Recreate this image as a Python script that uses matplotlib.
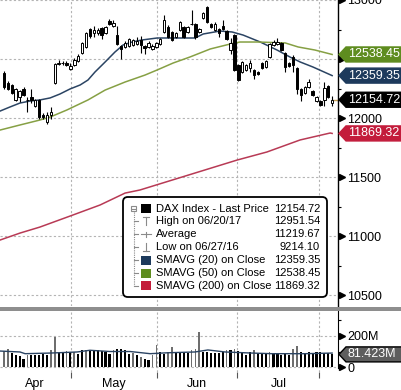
import numpy as np
import matplotlib.pyplot as plt
import matplotlib.transforms as mtransforms
from matplotlib.patches import FancyBboxPatch, Polygon, Rectangle
from matplotlib.lines import Line2D

plt.rcParams['font.family'] = ['Liberation Sans', 'DejaVu Sans']

# ---------------------------------------------------------------
# Data (DAX daily candles, Apr - early Aug 2017)
# ---------------------------------------------------------------
opens = [12381, 12297, 12280, 12153, 12178, 12246, 12150, 12178, 12102, 12153,
         12025, 11966, 12025, 12297, 12460, 12468, 12465, 12415, 12449, 12483,
         12551, 12602, 12754, 12720, 12722, 12763, 12720, 12822, 12780, 12703,
         12610, 12602, 12610, 12619, 12627, 12661, 12610, 12602, 12585, 12602,
         12627, 12729, 12771, 12729, 12686, 12746, 12771, 12729, 12795, 12797,
         12729, 12847, 12941, 12797, 12746, 12754, 12780, 12737, 12576, 12703,
         12449, 12390, 12407, 12424, 12407, 12390, 12466, 12432, 12517, 12619,
         12627, 12636, 12551, 12466, 12517, 12424, 12246, 12212, 12263, 12229,
         12144, 12144, 12153, 12271, 12125]
highs = [12400, 12310, 12290, 12255, 12240, 12260, 12178, 12246, 12165, 12165,
         12040, 12051, 12093, 12466, 12490, 12485, 12480, 12466, 12505, 12540,
         12645, 12730, 12765, 12780, 12760, 12775, 12780, 12839, 12830, 12780,
         12619, 12650, 12680, 12670, 12690, 12695, 12620, 12650, 12625, 12645,
         12680, 12873, 12790, 12740, 12730, 12822, 12780, 12780, 12915, 12805,
         12765, 12900, 12951.54, 12805, 12810, 12765, 12831, 12745, 12678, 12712,
         12460, 12485, 12460, 12492, 12415, 12400, 12475, 12492, 12636, 12660,
         12678, 12645, 12559, 12475, 12530, 12435, 12255, 12275, 12331, 12240,
         12190, 12155, 12305, 12280, 12185]
lows = [12250, 12235, 12200, 12140, 12135, 12185, 12051, 12127, 12090, 11995,
        11990, 11949, 11992, 12290, 12449, 12450, 12440, 12407, 12440, 12475,
        12545, 12595, 12680, 12686, 12700, 12670, 12712, 12788, 12770, 12619,
        12500, 12590, 12600, 12610, 12615, 12551, 12542, 12590, 12575, 12590,
        12620, 12720, 12678, 12650, 12678, 12737, 12678, 12720, 12788, 12670,
        12720, 12840, 12805, 12760, 12737, 12686, 12745, 12660, 12542, 12400,
        12310, 12380, 12395, 12390, 12331, 12365, 12415, 12424, 12508, 12610,
        12620, 12568, 12390, 12432, 12390, 12203, 12144, 12200, 12255, 12185,
        12135, 12100, 12102, 12170, 12100]
closes = [12263, 12246, 12212, 12246, 12229, 12195, 12155, 12153, 12153, 12008,
          12010, 12025, 12051, 12458, 12466, 12464, 12450, 12441, 12492, 12525,
          12636, 12720, 12695, 12746, 12744, 12703, 12771, 12797, 12805, 12627,
          12585, 12636, 12670, 12661, 12653, 12619, 12593, 12636, 12610, 12636,
          12670, 12831, 12686, 12661, 12720, 12814, 12686, 12771, 12800, 12686,
          12754, 12890, 12814.79, 12771, 12797, 12720, 12754, 12670, 12636, 12407,
          12322, 12475, 12449, 12466, 12364, 12373, 12424, 12483, 12627, 12644,
          12644, 12576, 12432, 12441, 12449, 12246, 12195, 12263, 12305, 12195,
          12178, 12110, 12254, 12178, 12154.72]

# volume in millions, and which bars are drawn grey
volume = [103, 119, 90, 80, 69, 54, 75, 80, 80, 80,
          86, 80, 108, 194, 90, 90, 101, 97, 95, 86,
          108, 108, 108, 108, 108, 103, 97, 86, 108, 119,
          119, 108, 86, 90, 75, 65, 54, 43, 75, 140,
          97, 86, 97, 129, 100, 97, 95, 90, 110, 115,
          226, 100, 95, 92, 92, 92, 97, 110, 108, 115,
          105, 90, 80, 95, 110, 90, 85, 92, 100, 85,
          92, 80, 85, 75, 118, 136, 95, 90, 95, 92,
          97, 95, 92, 92, 81.423]
vol_grey = [1, 1, 0, 0, 0, 0, 1, 0, 0, 0, 0, 0, 1, 1, 0, 0, 1, 0, 1, 0,
            0, 1, 0, 0, 0, 0, 0, 0, 1, 0, 0, 0, 0, 1, 0, 1, 0, 0, 1, 1,
            0, 0, 1, 1, 0, 0, 0, 0, 1, 1, 1, 0, 0, 0, 0, 0, 0, 1, 0, 1,
            0, 0, 0, 0, 1, 0, 0, 0, 1, 0, 0, 0, 0, 0, 1, 1, 0, 0, 0, 0,
            0, 0, 0, 0, 0]

# moving averages, read at a few points along each line (x = bar number)
sma20_x = [-1, 1.5, 4.1, 6.7, 9.2, 11.8, 14.3, 16.9, 19.5, 21.5, 23.3, 25.9, 28.4,
           30.5, 32.8, 35.3, 39.2, 43, 48.9, 51, 55.3, 58.4, 61.2, 65.6, 69.9,
           73.2, 75.8, 79.1, 84]
sma20 = [12059, 12093, 12127, 12144, 12153, 12170, 12203, 12246, 12280, 12322,
         12390, 12475, 12559, 12619, 12644, 12661, 12678, 12678, 12678, 12712,
         12737, 12729, 12703, 12644, 12576, 12517, 12475, 12432, 12359.35]
sma50_x = [-1, 4.1, 9.2, 11.8, 16.1, 21.5, 25.9, 31, 36.1, 39.2, 43.3, 47.6,
           52.8, 57.9, 60.4, 65, 72, 75.3, 79.6, 84]
sma50 = [11898, 11941, 11983, 12008, 12068, 12153, 12237, 12305, 12364, 12407,
         12466, 12517, 12585, 12627, 12644, 12644, 12636, 12602, 12576, 12538.45]
sma200_x = [-1, 4.1, 9.2, 16.9, 24.6, 31, 34.8, 59.7, 67.3, 75.8, 83.5, 84]
sma200 = [10966, 11025, 11076, 11169, 11263, 11364, 11390, 11644, 11712, 11814,
          11873, 11869.32]
volma_x = [-1, 4.1, 5.4, 11.8, 18.7, 22, 27.1, 32.3, 37.4, 42, 48.9, 52.2, 56.6,
           63.5, 68.6, 77.1, 84]
volma = [103, 97, 86, 90, 97, 108, 100, 100, 86, 92, 97, 110, 97, 90, 86, 86, 90]

month_names = ['Apr', 'May', 'Jun', 'Jul']
month_label_x = [7.8, 28, 49.5, 70.3]
month_start_x = [17.2, 39.2, 59.7, 80.7]

legend_rows = ['DAX Index - Last Price', 'High on 06/20/17', 'Average',
               'Low on 06/27/16', 'SMAVG (20) on Close', 'SMAVG (50) on Close',
               'SMAVG (200) on Close']
legend_vals = [closes[-1], max(highs), 11219.67, 9214.10, sma20[-1], sma50[-1], sma200[-1]]

C_NAVY = '#1d3a5c'
C_GREEN = '#5e8c1f'
C_RED = '#c31c3b'
GRID = dict(color='#b4b4b4', linestyle=(0, (2, 2)), linewidth=0.8)

# ---------------------------------------------------------------
W, H = 402, 390
fig = plt.figure(figsize=(W / 100, H / 100), dpi=100)


def fx(x):
    return x / W


def fy(y):
    return 1 - y / H


ax = fig.add_axes([0, fy(306), fx(338), 306 / H])
axv = fig.add_axes([0, fy(372), fx(338), (372 - 311) / H])
XLIM = (-1.02, 85.5)

# ---- price panel ----
bars = np.arange(len(closes))
o = np.array(opens)
c = np.array(closes)
up = c >= o
ax.vlines(bars, lows, highs, color='black', lw=0.8, zorder=3)
ax.bar(bars, np.maximum(np.abs(c - o), 3), bottom=np.minimum(o, c), width=0.62,
       color=np.where(up, 'white', 'black'), edgecolor='black', lw=0.7, zorder=4)

ax.plot(sma20_x, sma20, color='#2b4463', lw=1.1, zorder=2)
ax.plot(sma50_x, sma50, color='#86a044', lw=1.1, zorder=2)
ax.plot(sma200_x, sma200, color='#b83a55', lw=1.1, zorder=2)
ax.plot([bars[-1], XLIM[1]], [closes[-1], closes[-1]], color='#c9a45c', lw=1, zorder=2,
        clip_on=False)

ax.set_xlim(*XLIM)
ax.set_ylim(10407, 13000)
yticks = np.arange(10500, 13001, 500)
ax.set_yticks(yticks)
# 12500 sits under the SMAVG(50) tag, so its label is left blank
ax.set_yticklabels(['' if t == 12500 else str(t) for t in yticks])
ax.set_yticks(np.arange(10750, 13000, 500), minor=True)
ax.set_xticks(month_start_x)
ax.grid(True, **GRID)
ax.yaxis.tick_right()
ax.tick_params(axis='y', which='major', length=0, pad=6.8, labelsize=9)
ax.tick_params(axis='y', which='minor', length=2.5, width=0.8)
ax.tick_params(axis='x', length=0, labelbottom=False)
for s in ['left', 'top', 'bottom']:
    ax.spines[s].set_visible(False)
ax.spines['right'].set_linewidth(1)

trans = mtransforms.blended_transform_factory(ax.transAxes, ax.transData)
ax.plot([1.012] * len(yticks), yticks, ls='none', marker='>', ms=4.5, color='black',
        transform=trans, clip_on=False)

# ---- volume panel ----
vg = np.array(vol_grey) == 1
vol = np.array(volume)
axv.bar(bars[~vg], vol[~vg], width=0.55, color='black', zorder=3)
axv.bar(bars[vg], vol[vg], width=0.42, color='#6e6e6e', zorder=3)
axv.plot(volma_x, volma, color='#2b4463', lw=1, zorder=4)
axv.set_xlim(*XLIM)
axv.set_ylim(-32, 361)
axv.set_yticks([0, 200])
axv.set_yticklabels(['0', '200M'])
axv.set_yticks([100, 300], minor=True)
axv.yaxis.tick_right()
axv.tick_params(axis='y', which='major', length=0, pad=6.8, labelsize=9)
axv.tick_params(axis='y', which='minor', length=2.5, width=0.8)
axv.set_xticks(month_start_x)
axv.set_xticklabels([])
axv.set_xticks(month_label_x, minor=True)
axv.set_xticklabels(month_names, minor=True)
axv.tick_params(axis='x', which='major', length=4, width=0.8, color='#555555')
axv.tick_params(axis='x', which='minor', length=0, pad=4.5, labelsize=9)
axv.grid(True, which='major', **GRID)
for s in ['left', 'top', 'bottom']:
    axv.spines[s].set_visible(False)
axv.spines['right'].set_bounds(-6.5, 361)
transv = mtransforms.blended_transform_factory(axv.transAxes, axv.transData)
axv.plot([1.012] * 2, [0, 200], ls='none', marker='>', ms=4.5, color='black',
         transform=transv, clip_on=False)

# grey divider between the panels
fig.add_artist(Rectangle((0, fy(310.7)), 1, 3.4 / H, transform=fig.transFigure,
                         fc='#8e8e8e', ec='none'))


# ---- value tags on the right axis ----
def tag(axis, value, text, fc, ec=None):
    yc = H - axis.transData.transform((0, value))[1]
    pts = [(339, yc), (346, yc - 7.5), (W + 2, yc - 7.5), (W + 2, yc + 7.5), (346, yc + 7.5)]
    fig.add_artist(Polygon([(fx(a), fy(b)) for a, b in pts], closed=True,
                           transform=fig.transFigure, fc=fc, ec=ec or fc, lw=1, zorder=5))
    fig.text(fx(348), fy(yc), text, color='white', fontsize=9, ha='left', va='center',
             zorder=6)


tag(ax, sma50[-1], f'{sma50[-1]:.2f}', C_GREEN)
tag(ax, sma20[-1], f'{sma20[-1]:.2f}', C_NAVY)
tag(ax, closes[-1], f'{closes[-1]:.2f}', 'black')
tag(ax, sma200[-1], f'{sma200[-1]:.2f}', C_RED)
tag(axv, volume[-1], f'{volume[-1]:.3f}M', '#5e5e5e', 'black')

# ---- legend box ----
fig.add_artist(FancyBboxPatch((fx(123), fy(297)), fx(327) - fx(123), 100 / H,
                              boxstyle='round,pad=0,rounding_size=0.012',
                              mutation_aspect=W / H, transform=fig.transFigure,
                              fc='white', ec='black', lw=1.3, zorder=7))
row_y = [208.5 + 12.9 * i for i in range(len(legend_rows))]
icon_colors = ['black', None, None, None, C_NAVY, C_GREEN, C_RED]
tree = dict(color='#8a8a8a', lw=0.8, transform=fig.transFigure, zorder=8)
fig.add_artist(Line2D([fx(133.5)] * 2, [fy(212), fy(row_y[-1])], ls=(0, (1, 1)), **tree))
fig.add_artist(Rectangle((fx(131), fy(211)), 5 / W, 5 / H, fc='white', ec='#8a8a8a',
                         lw=0.8, transform=fig.transFigure, zorder=8))
fig.add_artist(Line2D([fx(132), fx(135)], [fy(208.5)] * 2, **tree))
for i, (name, val) in enumerate(zip(legend_rows, legend_vals)):
    ry = row_y[i]
    if i > 0:
        fig.add_artist(Line2D([fx(133.5), fx(138)], [fy(ry)] * 2, **tree))
    if icon_colors[i]:
        fig.add_artist(Rectangle((fx(141), fy(ry + 4.5)), 10 / W, 9 / H, fc=icon_colors[i],
                                 ec='none', transform=fig.transFigure, zorder=8))
    elif i == 1:
        fig.add_artist(Line2D([fx(143), fx(149)], [fy(ry - 4)] * 2, **tree))
        fig.add_artist(Line2D([fx(146)] * 2, [fy(ry - 4), fy(ry + 4)], **tree))
    elif i == 2:
        fig.add_artist(Line2D([fx(141), fx(151)], [fy(ry)] * 2, **tree))
        fig.add_artist(Line2D([fx(146)] * 2, [fy(ry - 2.5), fy(ry + 2.5)], **tree))
    else:
        fig.add_artist(Line2D([fx(143), fx(149)], [fy(ry + 4)] * 2, **tree))
        fig.add_artist(Line2D([fx(146)] * 2, [fy(ry - 4), fy(ry + 4)], **tree))
    fig.text(fx(156), fy(ry), name, fontsize=8, ha='left', va='center', zorder=9)
    fig.text(fx(320), fy(ry), f'{val:.2f}', fontsize=8, ha='right', va='center', zorder=9)

fig.savefig('out.png', dpi=100)
